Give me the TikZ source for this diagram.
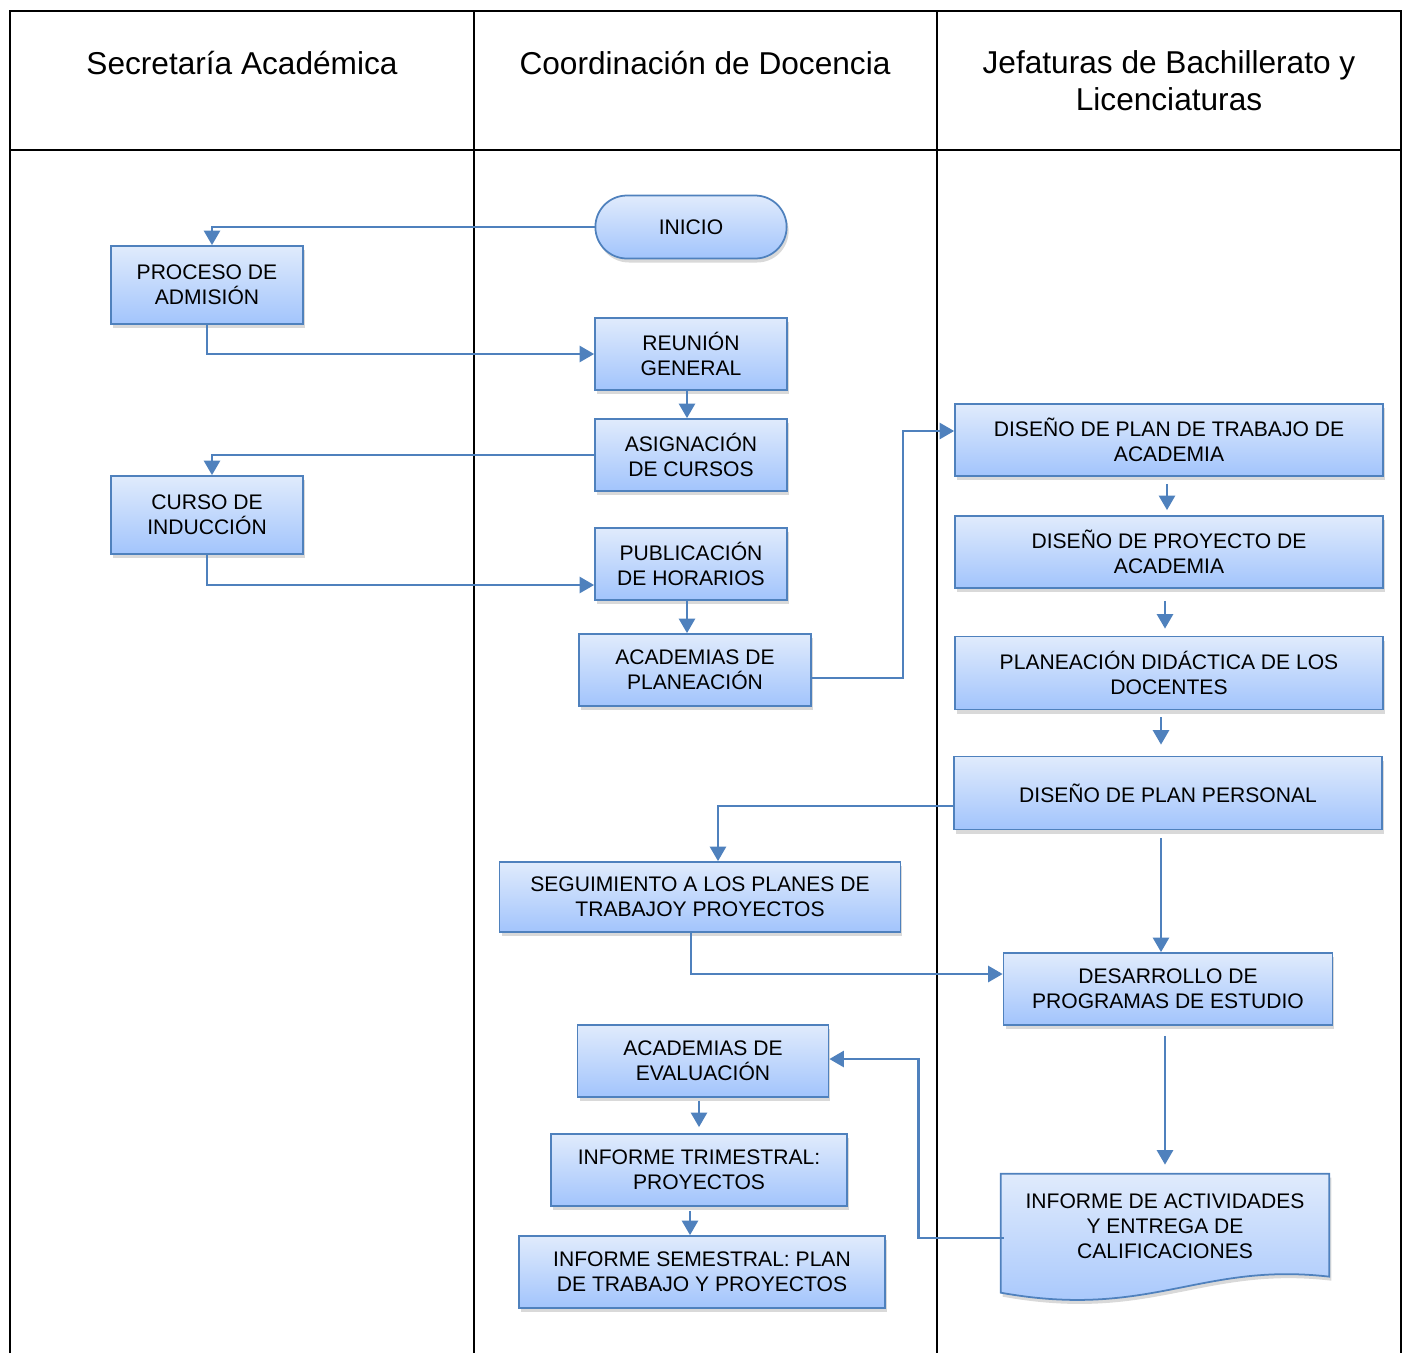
\documentclass[tikz,border=0pt]{standalone}
\usepackage{fontspec}
\setmainfont{Liberation Sans}
\usetikzlibrary{calc,arrows.meta,shadows,shapes.misc,backgrounds}
\definecolor{azulborde}{RGB}{79,129,189}
\definecolor{azularriba}{RGB}{224,235,252}
\definecolor{azulabajo}{RGB}{162,196,252}
\tikzstyle{caja} = [rectangle, draw=azulborde, line width=1pt, top color=azularriba, bottom color=azulabajo, drop shadow={shadow xshift=0.04cm, shadow yshift=-0.08cm, opacity=0.3}, minimum height=1.44cm, minimum width=3.84cm, align=center, font=\fontsize{12}{14.2}\selectfont]
\tikzstyle{terminal} = [caja, rounded rectangle, minimum height=1.26cm]
\tikzstyle{documento} = [draw=azulborde, line width=1pt, top color=azularriba, bottom color=azulabajo, drop shadow={shadow xshift=0.04cm, shadow yshift=-0.08cm, opacity=0.3}]
\tikzstyle{flecha} = [draw=azulborde, line width=1.5pt, -{Triangle[width=0.32cm,length=0.29cm]}]
\tikzstyle{titulo} = [inner sep=0pt, anchor=base, align=center, font=\fontsize{18}{20.5}\selectfont]
\tikzstyle{linea} = [line width=1.1pt]

\begin{document}
\begin{tikzpicture}[x=0.02cm, y=-0.02cm]

        \useasboundingbox (0,0) rectangle (1403,1353);

        % tabla
        \draw[linea] (10,1353) -- (10,11) -- (1401,11) -- (1401,1353);
        \draw[linea] (10,150) -- (1401,150);
        \draw[linea] (474,11) -- (474,1353);
        \draw[linea] (937,11) -- (937,1353);

        \node (sa) [titulo] at (242,74) {Secretaría Académica};
        \node (cd) [titulo] at (705,74) {Coordinación de Docencia};
        \node (jb) [titulo] at (1169,110) {Jefaturas de Bachillerato y\\Licenciaturas};

        % Secretaría Académica
        \node (proceso) [caja, minimum height=1.56cm] at (207,285) {PROCESO DE\\ADMISIÓN};
        \node (curso) [caja, minimum height=1.56cm] at (207,515) {CURSO DE\\INDUCCIÓN};

        % Coordinación de Docencia
        \node (inicio) [terminal, minimum width=4.06cm] at (691,227) {INICIO};
        \node (reunion) [caja] at (691,354) {REUNIÓN\\GENERAL};
        \node (asignacion) [caja] at (691,455) {ASIGNACIÓN\\DE CURSOS};
        \node (publicacion) [caja] at (691,564) {PUBLICACIÓN\\DE HORARIOS};
        \node (acadplan) [caja, minimum width=4.64cm] at (695,670) {ACADEMIAS DE\\PLANEACIÓN};
        \node (seguimiento) [caja, minimum width=8.02cm, minimum height=1.4cm] at (700,897) {SEGUIMIENTO A LOS PLANES DE\\TRABAJOY PROYECTOS};
        \node (evaluacion) [caja, minimum width=5.02cm] at (703,1061) {ACADEMIAS DE\\EVALUACIÓN};
        \node (trimestral) [caja, minimum width=5.92cm] at (699,1170) {INFORME TRIMESTRAL:\\PROYECTOS};
        \node (semestral) [caja, minimum width=7.32cm] at (702,1272) {INFORME SEMESTRAL: PLAN\\DE TRABAJO Y PROYECTOS};

        % Jefaturas
        \node (plantrabajo) [caja, minimum width=8.56cm] at (1169,440) {DISEÑO DE PLAN DE TRABAJO DE\\ACADEMIA};
        \node (proyecto) [caja, minimum width=8.56cm] at (1169,552) {DISEÑO DE PROYECTO DE\\ACADEMIA};
        \node (didactica) [caja, minimum width=8.56cm, minimum height=1.46cm] at (1169,673) {PLANEACIÓN DIDÁCTICA DE LOS\\DOCENTES};
        \node (personal) [caja, minimum width=8.56cm, minimum height=1.46cm] at (1168,793) {DISEÑO DE PLAN PERSONAL};
        \node (desarrollo) [caja, minimum width=6.58cm] at (1168,989) {DESARROLLO DE\\PROGRAMAS DE ESTUDIO};
        \node (actividades) [rectangle, align=center, minimum width=6.56cm, minimum height=2.08cm, font=\fontsize{12}{14.2}\selectfont] at (1165,1226) {INFORME DE ACTIVIDADES\\Y ENTREGA DE\\CALIFICACIONES};
        \begin{pgfonlayer}{background}
            \path[documento] (actividades.north west) -- (actividades.north east) -- ($(actividades.north east)+(0,103)$)
                .. controls ($(actividades.north east)+(-129,88)$) and ($(actividades.north west)+(149,146)$) .. ($(actividades.north west)+(0,119)$) -- cycle;
        \end{pgfonlayer}

        % conectores
        \draw[flecha] (inicio.west) -| ($(proceso.north)+(5,0)$);
        \draw[flecha] (proceso.south) |- (reunion.west);
        \draw[flecha] ($(reunion.south)+(-4,0)$) -- ($(asignacion.north)+(-4,0)$);
        \draw[flecha] (asignacion.west) -| ($(curso.north)+(5,0)$);
        \draw[flecha] (curso.south) |- ($(publicacion.west)+(0,21)$);
        \draw[flecha] ($(publicacion.south)+(-4,0)$) -- ($(acadplan.north)+(-8,0)$);
        \draw[flecha] ($(acadplan.east)+(0,8)$) -- ++(91,0) |- ($(plantrabajo.west)+(0,-9)$);

        \draw[flecha] ($(plantrabajo.south)+(-2,7)$) -- ($(proyecto.north)+(-2,-5)$);
        \draw[flecha] ($(proyecto.south)+(-4,12)$) -- ($(didactica.north)+(-4,-7)$);
        \draw[flecha] ($(didactica.south)+(-8,7)$) -- ($(personal.north)+(-7,-11)$);
        \draw[flecha] ($(personal.west)+(0,13)$) -| ($(seguimiento.north)+(18,0)$);
        \draw[flecha] ($(personal.south)+(-7,8)$) -- ($(desarrollo.north)+(-7,0)$);
        \draw[flecha] ($(seguimiento.south)+(-9,0)$) |- ($(desarrollo.west)+(0,-15)$);
        \draw[flecha] ($(desarrollo.south)+(-3,10)$) -- ($(actividades.north)+(0,-9)$);
        \draw[flecha] ($(actividades.west)+(3,12)$) -- ++(-85,0) |- ($(evaluacion.east)+(0,-2)$);

        \draw[flecha] ($(evaluacion.south)+(-4,3)$) -- ($(trimestral.north)+(0,-6)$);
        \draw[flecha] ($(trimestral.south)+(-9,4)$) -- ($(semestral.north)+(-12,0)$);

    \end{tikzpicture}
\end{document}
